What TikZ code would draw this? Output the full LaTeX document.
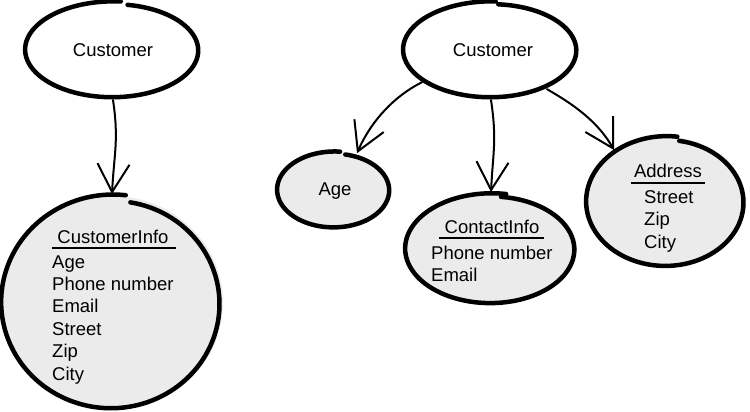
\documentclass[tikz,border=0pt]{standalone}
\usepackage{fontspec}
\setmainfont{Liberation Sans}
\usetikzlibrary{arrows.meta,shapes.geometric}
\definecolor{boxgray}{HTML}{EBEBEB}
% sketchy ellipse outline: cx cy rx ry start end
\newcommand\sketchell[6]{%
  \draw[outline] plot[domain=#5:#6, samples=90, smooth, variable=\t]
    ({#1+#3*(0.955+0.06*(\t-(#5))/((#6)-(#5)))*cos(\t)},
     {#2+#4*(0.955+0.06*(\t-(#5))/((#6)-(#5)))*sin(\t)});}
\tikzset{
  outline/.style={line width=4.5pt, line cap=round, line join=round},
  blob/.style={ellipse, draw=none, fill=boxgray, inner sep=0pt, outer sep=2pt},
  plainell/.style={ellipse, draw=none, inner sep=0pt, outer sep=2pt},
  conn/.style={line width=2pt, line cap=round, -{Straight Barb[length=28pt,width=32pt]}},
  lbl/.style={font=\fontsize{18.5}{22.4}\selectfont, inner sep=0pt, anchor=base},
  item/.style={lbl, anchor=base west},
  uline/.style={line width=2pt}
}
\begin{document}
\begin{tikzpicture}[x=1pt,y=-1pt]
\fill[white] (0,0) rectangle (750,412);
\useasboundingbox (0,0) rectangle (750,412);
% shapes
\node[plainell, minimum width=176pt, minimum height=96pt] (cl) at (113,50) {};
\node[blob, minimum width=222pt, minimum height=214pt] (il) at (112,303) {};
\node[plainell, minimum width=176pt, minimum height=96pt] (cr) at (491,50) {};
\node[blob, minimum width=114pt, minimum height=76pt] (age) at (334,190) {};
\node[blob, minimum width=172pt, minimum height=110pt] (ci) at (491,249) {};
\node[blob, minimum width=160pt, minimum height=130pt] (ad) at (666,202) {};
% outlines
\sketchell{113}{50}{88}{48}{-80}{275}
\sketchell{112}{303}{111}{107}{-80}{277}
\sketchell{491}{50}{88}{48}{-85}{273}
\sketchell{334}{190}{57}{38}{-78}{276}
\sketchell{491}{249}{86}{55}{-83}{280}
\sketchell{666}{202}{80}{65}{-80}{278}
% connectors
\draw[conn] (cl.south) .. controls +(6,40) and +(2,-40) .. (il.north);
\draw[conn] (cr.205) .. controls +(-28,14) and +(14,-32) .. (age.58);
\draw[conn] (cr.south) .. controls +(6,40) and +(2,-40) .. (ci.north);
\draw[conn] (cr.325) .. controls +(28,16) and +(-16,-28) .. (ad.135);
% texts
\node[lbl] (tcl) at (113,57) {Customer};
\node[lbl] (tcr) at (493,57) {Customer};
\node[lbl] (tage) at (335,195) {Age};
\node[lbl] (til) at (113,243) {CustomerInfo};
\draw[uline] (52,248) -- (176,248);
\node[item] (il1) at (52,268) {Age};
\node[item] (il2) at (52,290.4) {Phone number};
\node[item] (il3) at (52,312.8) {Email};
\node[item] (il4) at (52,335.2) {Street};
\node[item] (il5) at (52,357.6) {Zip};
\node[item] (il6) at (52,380) {City};
\node[lbl] (tci) at (492,233) {ContactInfo};
\draw[uline] (439,238) -- (544,238);
\node[item] (ci1) at (431,259) {Phone number};
\node[item] (ci2) at (431,281) {Email};
\node[lbl] (tad) at (668,177) {Address};
\draw[uline] (631,183) -- (705,183);
\node[item] (ad1) at (644,203) {Street};
\node[item] (ad2) at (644,225.5) {Zip};
\node[item] (ad3) at (644,248) {City};
\end{tikzpicture}
\end{document}
